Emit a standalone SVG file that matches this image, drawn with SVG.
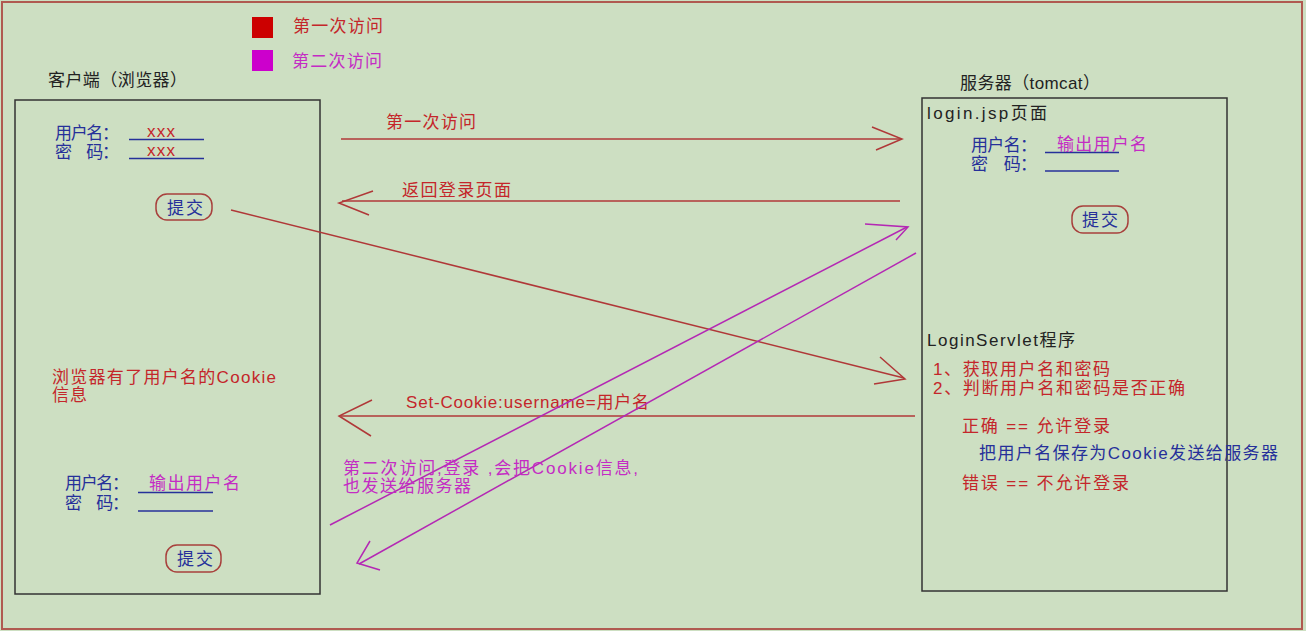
<svg xmlns="http://www.w3.org/2000/svg" width="1306" height="631" viewBox="0 0 1306 631">
<defs>
<style>
text{font-family:"Liberation Sans","Noto Sans CJK SC",sans-serif;font-size:17px}
.r{fill:#c4262a}
.b{fill:#26309a}
.m{fill:#c42cc4}
.k{fill:#222}
.box{fill:none;stroke:#333;stroke-width:1.5}
.btn{fill:none;stroke:#a8403c;stroke-width:1.5}
.ul{stroke:#26309a;stroke-width:1.5}
.rl{stroke:#b03838;stroke-width:1.5;fill:none}
.ml{stroke:#b428b4;stroke-width:1.5;fill:none}
</style>
</defs>
<rect x="0" y="0" width="1306" height="631" fill="#cddfc2"/>
<rect x="2" y="2" width="1300" height="627" fill="none" stroke="#b05a50" stroke-width="2"/>

<g id="legend">
<rect x="252" y="17" width="21" height="21" fill="#cc0000"/>
<rect x="252" y="50" width="21" height="21" fill="#cc00cc"/>
<text x="293" y="32" class="r" textLength="90" lengthAdjust="spacing">第一次访问</text>
<text x="292" y="67" class="m" textLength="90" lengthAdjust="spacing">第二次访问</text>
</g>

<g id="client">
<text x="48" y="86" class="k" textLength="139" lengthAdjust="spacing">客户端（浏览器）</text>
<rect x="15" y="100" width="305" height="494" class="box"/>
<text x="55" y="139" class="b" textLength="64" lengthAdjust="spacing">用户名：</text>
<line x1="129" y1="139.5" x2="204" y2="139.5" class="ul"/>
<text x="147" y="137" class="r" textLength="28" lengthAdjust="spacing">xxx</text>
<text x="55" y="158" class="b" textLength="64" lengthAdjust="spacing">密　码：</text>
<line x1="129" y1="158.5" x2="204" y2="158.5" class="ul"/>
<text x="147" y="156" class="r" textLength="28" lengthAdjust="spacing">xxx</text>
<rect x="156" y="194" width="56" height="26" rx="11" class="btn"/>
<text x="167" y="214" class="b" textLength="36" lengthAdjust="spacing">提交</text>
<text x="52" y="383" class="r" textLength="224" lengthAdjust="spacing">浏览器有了用户名的Cookie</text>
<text x="52" y="401" class="r" textLength="35" lengthAdjust="spacing">信息</text>
<text x="65" y="489" class="b" textLength="64" lengthAdjust="spacing">用户名：</text>
<line x1="138" y1="492.5" x2="213" y2="492.5" class="ul"/>
<text x="149" y="489" class="m" textLength="91" lengthAdjust="spacing">输出用户名</text>
<text x="65" y="509" class="b" textLength="64" lengthAdjust="spacing">密　码：</text>
<line x1="138" y1="511" x2="213" y2="511" class="ul"/>
<rect x="166" y="545" width="55" height="27" rx="11" class="btn"/>
<text x="177" y="565" class="b" textLength="36" lengthAdjust="spacing">提交</text>
</g>

<g id="server">
<text x="960" y="89" class="k" textLength="140" lengthAdjust="spacing">服务器（tomcat）</text>
<rect x="922" y="98" width="305" height="493" class="box"/>
<text x="927" y="119" class="k" textLength="120" lengthAdjust="spacing">login.jsp页面</text>
<text x="971" y="151" class="b" textLength="66" lengthAdjust="spacing">用户名：</text>
<line x1="1045" y1="152.5" x2="1119" y2="152.5" class="ul"/>
<text x="1057" y="150" class="m" textLength="90" lengthAdjust="spacing">输出用户名</text>
<text x="971" y="170" class="b" textLength="66" lengthAdjust="spacing">密　码：</text>
<line x1="1045" y1="171" x2="1119" y2="171" class="ul"/>
<rect x="1072" y="206" width="56" height="27" rx="11" class="btn"/>
<text x="1082" y="226" class="b" textLength="36" lengthAdjust="spacing">提交</text>
<text x="927" y="346" class="k" textLength="148" lengthAdjust="spacing">LoginServlet程序</text>
<text x="933" y="375" class="r" textLength="177" lengthAdjust="spacing">1、获取用户名和密码</text>
<text x="933" y="394" class="r" textLength="252" lengthAdjust="spacing">2、判断用户名和密码是否正确</text>
<text x="962" y="432" class="r" textLength="148" lengthAdjust="spacing">正确 == 允许登录</text>
<text x="979" y="459" class="b" textLength="299" lengthAdjust="spacing">把用户名保存为Cookie发送给服务器</text>
<text x="962" y="489" class="r" textLength="167" lengthAdjust="spacing">错误 == 不允许登录</text>
</g>

<g id="connectors">
<line x1="341" y1="139" x2="901" y2="139" class="rl"/>
<polyline points="872,127 902,139 876,150" class="rl"/>
<text x="386" y="128" class="r" textLength="90" lengthAdjust="spacing">第一次访问</text>

<line x1="900" y1="201" x2="342" y2="201" class="rl"/>
<polyline points="373,191 339,203 369,215" class="rl"/>
<text x="402" y="196" class="r" textLength="109" lengthAdjust="spacing">返回登录页面</text>

<line x1="231" y1="210" x2="904" y2="378" class="rl"/>
<polyline points="880,357 905,379 874,384" class="rl"/>

<line x1="915" y1="416" x2="341" y2="416" class="rl"/>
<polyline points="372,400 339,416 371,436" class="rl"/>
<text x="406" y="408" class="r" textLength="243" lengthAdjust="spacing">Set-Cookie:username=用户名</text>

<line x1="330" y1="525" x2="907" y2="227" class="ml"/>
<polyline points="865,224 908,227 896,240" class="ml"/>

<line x1="916" y1="253" x2="359" y2="564" class="ml"/>
<polyline points="370,541 357,563 380,570" class="ml"/>

<text x="343" y="474" class="m" textLength="295" lengthAdjust="spacing">第二次访问,登录 ,会把Cookie信息,</text>
<text x="343" y="492" class="m" textLength="128" lengthAdjust="spacing">也发送给服务器</text>
</g>
</svg>
